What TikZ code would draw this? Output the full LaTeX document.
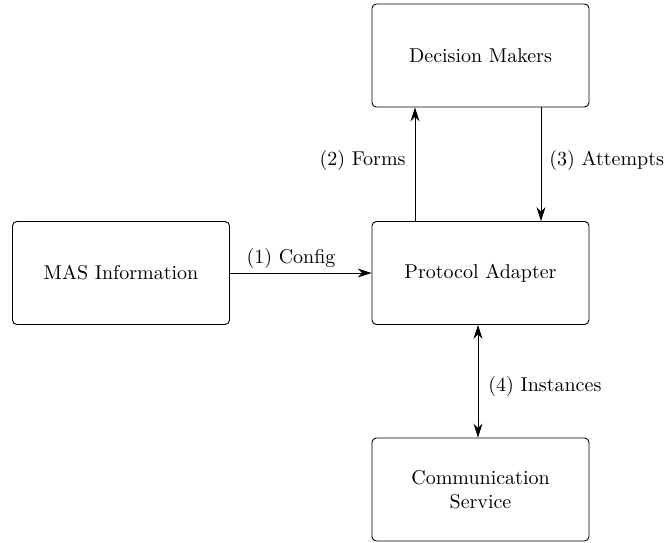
\documentclass[tikz,border=0pt]{standalone}
\usetikzlibrary{arrows.meta}
\begin{document}
\begin{tikzpicture}[x=0.5pt,y=-0.5pt,
  box/.style={draw, rounded corners=2.2pt, minimum width=108.5pt, minimum height=51.5pt, align=center, inner sep=0pt, line width=0.45pt},
  tip/.style={Stealth[length=7pt,width=4.5pt]},
  conn/.style={-{Stealth[length=7pt,width=4.5pt]}, line width=0.45pt},
  lab/.style={inner sep=0pt}]
\useasboundingbox (0,0) rectangle (665,542);
\node[box] (dm) at (480.5,55.5) {Decision Makers};
\node[box] (mas) at (121,273) {MAS Information};
\node[box] (pa) at (480.5,273) {Protocol Adapter};
\node[box] (cs) at (480.5,489.5) {Communication\\Service};
\draw[conn] (mas.east) -- (pa.west);
\node[lab] at (291,258) {(1) Config};
\draw[conn] (pa.north -| 415,0) -- (dm.south -| 415,0);
\node[lab, anchor=east] at (406,160) {(2) Forms};
\draw[conn] (dm.south -| 541,0) -- (pa.north -| 541,0);
\node[lab, anchor=west] at (549,160) {(3) Attempts};
\draw[conn, {Stealth[length=7pt,width=4.5pt]}-{Stealth[length=7pt,width=4.5pt]}] (pa.south -| 478,0) -- (cs.north -| 478,0);
\node[lab, anchor=west] at (488,386) {(4) Instances};
\end{tikzpicture}
\end{document}
